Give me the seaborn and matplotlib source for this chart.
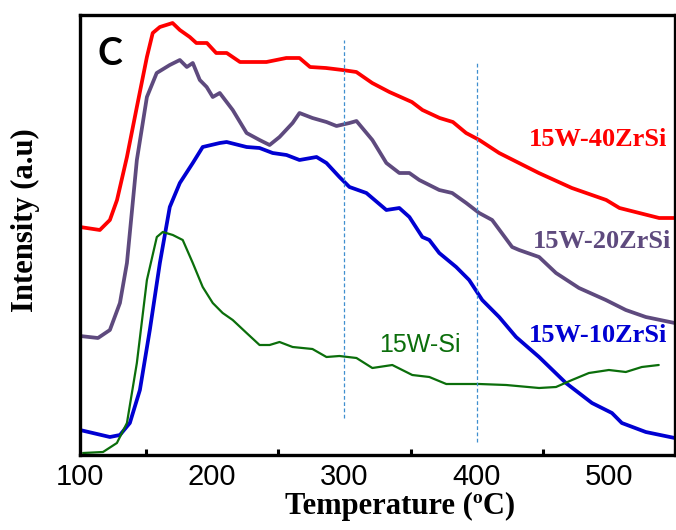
import numpy as np
import pandas as pd
import matplotlib
matplotlib.use("Agg")
import matplotlib.pyplot as plt
import seaborn as sns
from matplotlib.ticker import MultipleLocator

# ---- data ----
t_40 = [100, 115, 122.6, 128, 135.5, 143, 150.6, 155, 160.4, 170, 175.5, 183, 188, 196, 203, 211,
        221, 241, 256, 266, 274, 286, 298.5, 309, 321, 334, 351, 359, 372, 382, 392, 402, 417,
        432, 447, 472, 498, 508, 523, 538, 550]
i_40 = [228, 225, 235, 255, 298, 348, 398, 422, 428, 432, 425, 418, 412, 412, 402, 402,
        393, 393, 397, 397, 388, 387, 385, 383, 372, 363, 353, 345, 337, 333, 322, 315, 302,
        292, 282, 267, 255, 247, 242, 237, 237]

t_20 = [100, 113.6, 122.6, 130.2, 135.5, 143, 150.6, 158, 167.9, 175.5, 180.8, 185.3, 190.6,
        195.8, 200.4, 205.7, 215.5, 226, 235.8, 243.4, 250.9, 260.8, 266, 275.8, 286.4, 294,
        303.8, 309.1, 321.1, 331.7, 341.5, 349.1, 356.6, 371.7, 381.5, 392.1, 401.9, 411.7,
        426.8, 432.1, 447.2, 460, 477.4, 497.7, 512.8, 527.9, 549.8]
i_20 = [119, 117, 125, 152, 192, 295, 358, 382, 390, 395, 388, 392, 375,
        368, 358, 362, 345, 322, 315, 310, 318, 332, 342, 337, 333, 329,
        332, 334, 315, 292, 282, 282, 275, 265, 262, 252, 242, 235,
        208, 205, 198, 182, 167, 155, 145, 138, 132]

t_10 = [100, 122.6, 130.2, 137.7, 145.3, 152.8, 160.4, 167.9, 175.5, 185.3, 192.8, 205.7, 210.9,
        226, 235.8, 245.7, 256.2, 266, 278.9, 286.4, 296.2, 303.8, 316.6, 331.7, 341.5, 349.1,
        358.9, 364.2, 371.7, 384.5, 394.3, 404.2, 417, 429.8, 447.2, 467.5, 487.2, 502.3,
        509.8, 527.9, 549.8]
i_10 = [25, 18, 20, 32, 65, 125, 192, 248, 272, 292, 308, 312, 313,
        308, 307, 302, 300, 295, 298, 292, 278, 268, 262, 245, 247, 238,
        218, 215, 202, 188, 175, 155, 138, 118, 98, 72, 52, 42,
        32, 23, 17]

t_si = [102.3, 117.4, 127.9, 135.5, 143, 150.6, 158.1, 162.6, 170.2, 177.7, 185.3, 192.8, 200.4,
        207.9, 215.5, 226, 235.8, 243.4, 250.9, 260.8, 275.8, 286.4, 296.2, 309.1, 321.1,
        336.2, 351.3, 364.2, 377, 401.9, 422.3, 447.2, 460, 472.1, 484.9, 500, 512.8, 524.9,
        537.7]
i_si = [2, 3, 12, 32, 92, 175, 218, 223, 220, 215, 192, 168, 152,
        142, 135, 122, 110, 110, 113, 108, 106, 98, 99, 97, 87,
        90, 80, 78, 71, 71, 70, 67, 68, 75, 82, 85, 83, 88,
        90]

series_names = ["15W-40ZrSi", "15W-20ZrSi", "15W-10ZrSi", "15W-Si"]
x_ticks = [100, 200, 300, 400, 500]
ref_lines = [300, 400]

# ---- figure ----
sns.set_theme(style="white")
plt.rcParams['font.family'] = ['Liberation Sans', 'DejaVu Sans']
plt.rcParams['text.color'] = 'black'
plt.rcParams['axes.labelcolor'] = 'black'
plt.rcParams['xtick.color'] = 'black'
plt.rcParams['axes.edgecolor'] = 'black'

fig = plt.figure(figsize=(6.76, 5.30), dpi=100)
ax = fig.add_axes([80/676, 75/530, 595/676, 440/530])

colors = {"15W-40ZrSi": "#ff0000", "15W-20ZrSi": "#5e4a7e",
          "15W-10ZrSi": "#0000d2", "15W-Si": "#0b6e0b"}
widths = {"15W-40ZrSi": 2.7, "15W-20ZrSi": 2.7, "15W-10ZrSi": 2.7, "15W-Si": 1.6}
data = {"15W-40ZrSi": (t_40, i_40), "15W-20ZrSi": (t_20, i_20),
        "15W-10ZrSi": (t_10, i_10), "15W-Si": (t_si, i_si)}

for name in series_names:
    tx, iy = data[name]
    sns.lineplot(x=tx, y=iy, ax=ax, color=colors[name], lw=widths[name],
                 estimator=None, sort=False)

# dashed reference lines
ax.plot([ref_lines[0], ref_lines[0]], [37, 415], ls=(0, (3, 2)), color="#3f8fcf", lw=0.9)
ax.plot([ref_lines[1], ref_lines[1]], [13, 393], ls=(0, (3, 2)), color="#3f8fcf", lw=0.9)

ax.set_xlim(100, 550)
ax.set_ylim(0, 440)
ax.set_xticks(x_ticks)
ax.set_xticklabels([str(v) for v in x_ticks])
ax.xaxis.set_minor_locator(MultipleLocator(50))
ax.set_yticks([])
ax.tick_params(axis='x', which='major', direction='in', length=8, width=2.2,
               labelsize=21, pad=6, colors='black')
ax.tick_params(axis='x', which='minor', direction='in', length=4, width=2.2, bottom=True,
               colors='black')
for s in ax.spines.values():
    s.set_visible(True)
    s.set_color('black')
    s.set_linewidth(2.4)

serif = ['Liberation Serif', 'DejaVu Serif']
ax.set_xlabel("Temperature (ºC)", fontsize=22, fontweight='bold', family=serif, color='black')
ax.xaxis.set_label_coords((400-80)/595, (455-492)/440)
ax.set_ylabel("Intensity (a.u)", fontsize=22, fontweight='bold', family=serif, color='black')
ax.yaxis.set_label_coords((25-80)/595, (455-220)/440)
ax.yaxis.label.set_verticalalignment('center')

ax.text(491.7, 315, "15W-40ZrSi", color=colors["15W-40ZrSi"], fontsize=19,
        fontweight='bold', family=serif, ha='center', va='center')
ax.text(494.7, 213, "15W-20ZrSi", color=colors["15W-20ZrSi"], fontsize=19,
        fontweight='bold', family=serif, ha='center', va='center')
ax.text(491.7, 120, "15W-10ZrSi", color=colors["15W-10ZrSi"], fontsize=19,
        fontweight='bold', family=serif, ha='center', va='center')
ax.text(357.4, 110, "15W-Si", color=colors["15W-Si"], fontsize=18,
        ha='center', va='center')
ax.text(122.6, 401, "C", color='black', fontsize=27, fontweight='bold',
        family=['Lato', 'DejaVu Sans'], ha='center', va='center')

fig.savefig("out.png", dpi=100)
